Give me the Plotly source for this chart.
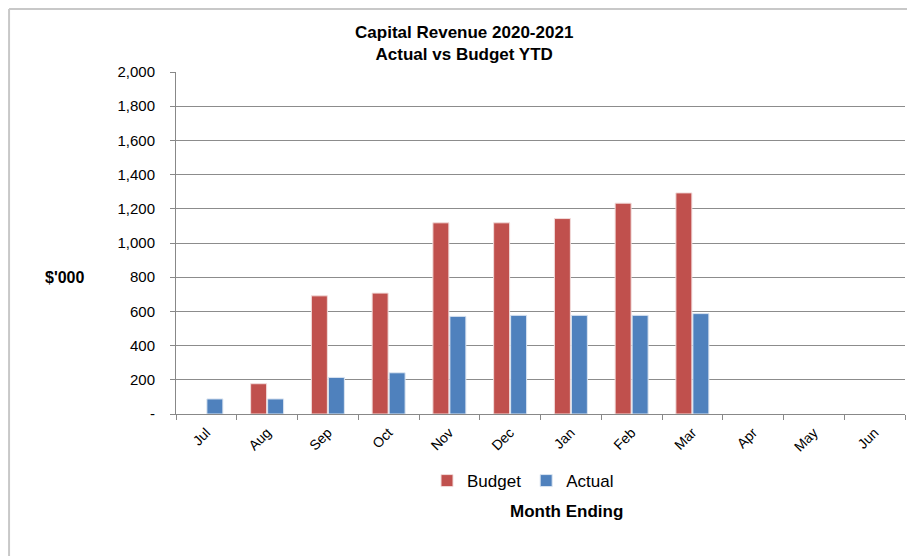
import plotly.graph_objects as go

months = ["Jul", "Aug", "Sep", "Oct", "Nov", "Dec", "Jan", "Feb", "Mar", "Apr", "May", "Jun"]
budget = [None, 177, 691, 707, 1118, 1118, 1143, 1233, 1293, None, None, None]
actual = [88, 88, 214, 241, 571, 577, 577, 577, 587, None, None, None]

y_ticks = list(range(0, 2001, 200))
y_labels = ["-"] + [f"{v:,}" for v in y_ticks[1:]]

FONT = "Liberation Sans, Arial, sans-serif"

fig = go.Figure()
fig.add_trace(go.Bar(
    x=months, y=budget, name="Budget",
    marker=dict(color="#C0504D", line=dict(color="#f2dcdb", width=1)),
))
fig.add_trace(go.Bar(
    x=months, y=actual, name="Actual",
    marker=dict(color="#4F81BD", line=dict(color="#dbe5f1", width=1)),
))

# page body has an 8px margin, so the figure is sized to fit the window
fig.update_layout(
    width=907, height=548,
    margin=dict(l=168, r=10, t=64, b=142, autoexpand=False),
    paper_bgcolor="white",
    plot_bgcolor="white",
    font=dict(family=FONT, size=13, color="#000"),
    barmode="group",
    bargap=0.44,
    bargroupgap=0.06,
    title=dict(
        text="<b>Capital Revenue 2020-2021<br>Actual vs Budget YTD</b>",
        x=0.503, xanchor="center", y=0.946, yanchor="top",
        font=dict(size=17),
    ),
    legend=dict(
        orientation="h", x=0.476, xanchor="center", y=-0.196, yanchor="middle",
        font=dict(size=17), traceorder="normal",
    ),
    xaxis=dict(
        type="category",
        tickangle=-45,
        showline=True, linecolor="#888", linewidth=1,
        ticks="outside", tickson="boundaries", ticklen=5, tickcolor="#888",
        showgrid=False, automargin=False,
        ticklabelstandoff=4,
        tickfont=dict(size=14),
    ),
    yaxis=dict(
        range=[0, 2000],
        tickvals=y_ticks, ticktext=y_labels,
        showline=True, linecolor="#888", linewidth=1,
        ticks="outside", ticklen=5, tickcolor="#888",
        showgrid=True, gridcolor="#8c8c8c", gridwidth=1,
        zeroline=False, automargin=False,
        ticklabelstandoff=12,
        tickfont=dict(size=15),
    ),
    showlegend=True,
)

fig.add_annotation(
    text="<b>$'000</b>", xref="paper", yref="paper",
    x=-0.152, y=0.398, xanchor="center", yanchor="middle",
    showarrow=False, font=dict(size=16),
)
fig.add_annotation(
    text="<b>Month Ending</b>", xref="paper", yref="paper",
    x=0.536, y=-0.284, xanchor="center", yanchor="middle",
    showarrow=False, font=dict(size=17),
)
fig.add_shape(
    type="line", xref="paper", yref="paper",
    x0=-0.229, x1=-0.229, y0=-0.5, y1=1.184,
    line=dict(color="#c8c8c8", width=2),
)
fig.add_shape(
    type="line", xref="paper", yref="paper",
    x0=-0.229, x1=1.1, y0=1.184, y1=1.184,
    line=dict(color="#c8c8c8", width=2),
)

fig.write_html("out.html")
